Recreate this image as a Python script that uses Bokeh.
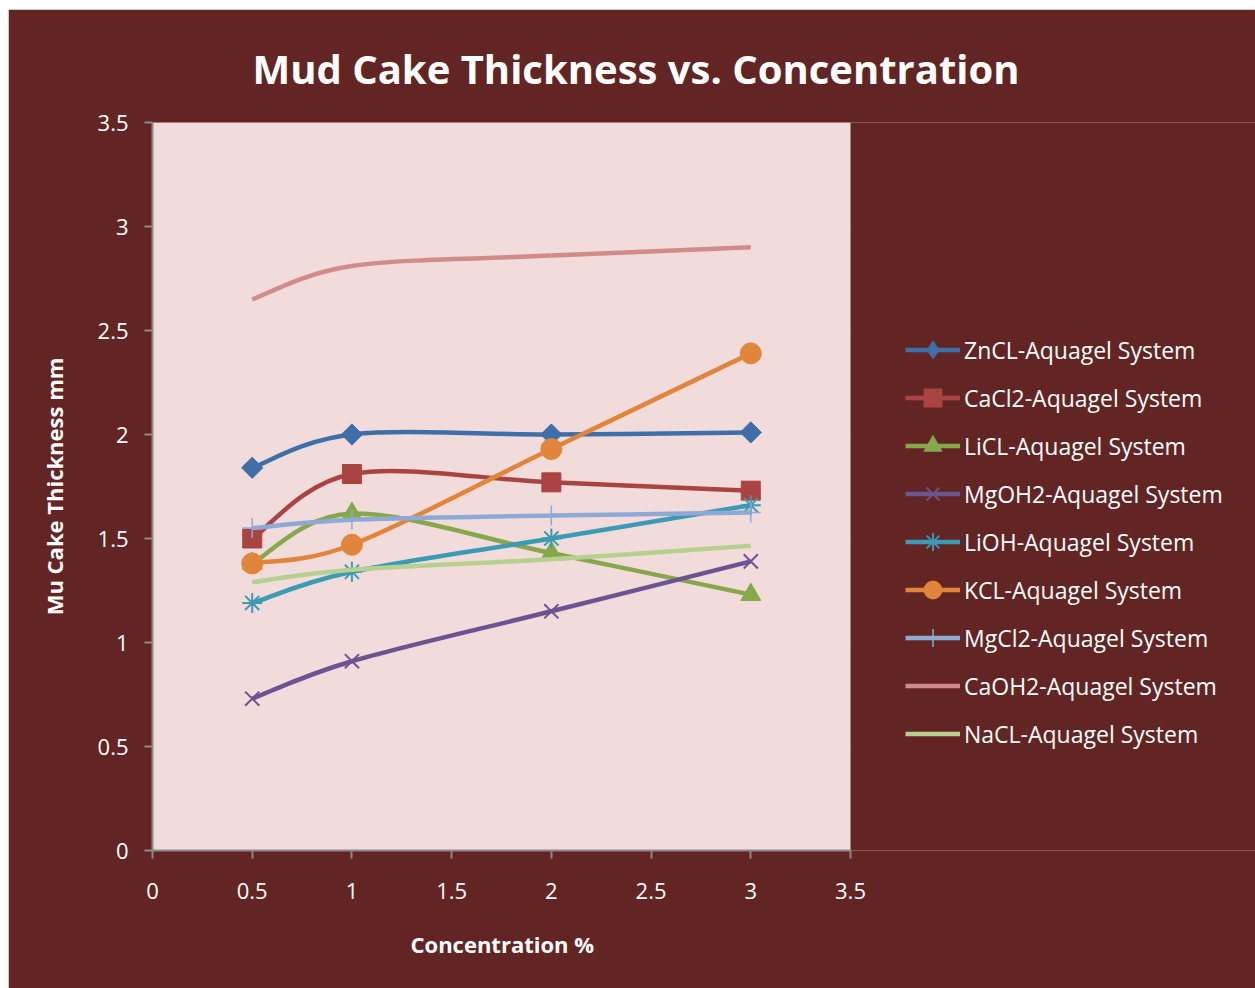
import numpy as np
from bokeh.plotting import figure
from bokeh.models import Legend, LegendItem, ColumnDataSource, FixedTicker, BoxAnnotation, Title
from bokeh.embed import file_html
from bokeh.resources import INLINE

# ---- data ----
concentration = [0.5, 1, 2, 3]
series_names = ["ZnCL-Aquagel System", "CaCl2-Aquagel System", "LiCL-Aquagel System",
                "MgOH2-Aquagel System", "LiOH-Aquagel System", "KCL-Aquagel System",
                "MgCl2-Aquagel System", "CaOH2-Aquagel System", "NaCL-Aquagel System"]
zncl = [1.84, 2.00, 2.00, 2.01]
cacl2 = [1.50, 1.81, 1.77, 1.73]
licl = [1.38, 1.62, 1.43, 1.23]
mgoh2 = [0.73, 0.91, 1.15, 1.39]
lioh = [1.19, 1.34, 1.50, 1.66]
kcl = [1.38, 1.47, 1.93, 2.39]
mgcl2 = [1.55, 1.59, 1.61, 1.625]
caoh2 = [2.65, 2.81, 2.86, 2.90]
nacl = [1.29, 1.35, 1.40, 1.465]
series_values = [zncl, cacl2, licl, mgoh2, lioh, kcl, mgcl2, caoh2, nacl]
axis_ticks = [0, 0.5, 1, 1.5, 2, 2.5, 3, 3.5]
tick_labels = ["0", "0.5", "1", "1.5", "2", "2.5", "3", "3.5"]
axis_max = 3.5

colors = ["#3F6FA8", "#AA4442", "#87A84A", "#6C5391", "#3D9AB4", "#E0853A",
          "#8EAAD4", "#D28B8B", "#B6D090"]
markers = ["square", "square", "triangle", "x", "asterisk", "circle", "cross", None, None]
legend_markers = ["diamond", "square", "triangle", "x", "asterisk", "circle", "cross", None, None]
marker_sizes = [15, 19, 20, 20, 20, 21, 20, 0, 0]
marker_angles = [np.pi / 4, 0, 0, 0, 0, 0, 0, 0, 0]

BG = "#632523"
FRAME = "#F2DCDB"
GRID = "#8A8A8A"
FONT = "Open Sans"

# plot area is 698 px for 3.5 units; the frame continues to the right edge (legend area)
plot_px = 698.0
frame_px = 1103.0
x_end = axis_max * frame_px / plot_px

p = figure(width=1247, height=979, x_range=(0, x_end), y_range=(0, axis_max),
           output_backend="svg", toolbar_location=None,
           min_border_left=144, min_border_right=0, min_border_top=113, min_border_bottom=138)
p.margin = (9, 0, 0, 8)
p.border_fill_color = BG
p.background_fill_color = BG
p.outline_line_color = None

p.add_layout(BoxAnnotation(left=0, right=axis_max, bottom=0, top=axis_max,
                           fill_color=FRAME, fill_alpha=1, line_color=None, level="underlay"))

p.title.text = "Mud Cake Thickness vs. Concentration"
p.title.text_color = "white"
p.title.text_font = FONT
p.title.text_font_style = "bold"
p.title.text_font_size = "40px"
p.title.align = "left"
p.title.offset = 100
p.title.standoff = 54

for ax in (p.xaxis[0], p.yaxis[0]):
    ax.ticker = FixedTicker(ticks=axis_ticks)
    ax.bounds = (0, axis_max)
    ax.major_label_overrides = {t: l for t, l in zip(axis_ticks, tick_labels)}
    ax.axis_line_color = GRID
    ax.axis_line_width = 2
    ax.major_tick_line_color = GRID
    ax.major_tick_line_width = 2
    ax.major_tick_in = 0
    ax.major_tick_out = 8
    ax.minor_tick_line_color = None
    ax.major_label_text_color = "white"
    ax.major_label_text_font = FONT
    ax.major_label_text_font_size = "22px"
    ax.axis_label_text_color = "white"
    ax.axis_label_text_font = FONT
    ax.axis_label_text_font_style = "bold"
    ax.axis_label_text_font_size = "22px"

p.yaxis.axis_label = "Mu Cake Thickness mm"
p.xaxis.major_label_standoff = 24
p.yaxis.major_label_standoff = 16
p.yaxis.axis_label_standoff = 26

xtitle = Title(text="Concentration %", text_color="white", text_font=FONT,
               text_font_style="bold", text_font_size="22px", align="left", offset=258,
               standoff=51)
p.add_layout(xtitle, "below")

p.xgrid.grid_line_color = None
p.ygrid.grid_line_color = GRID
p.ygrid.grid_line_width = 2
p.ygrid.cross_bounds = (0, axis_max)


def smooth_segments(xs, ys):
    n = len(xs)
    d = dict(x0=[], y0=[], x1=[], y1=[], cx0=[], cy0=[], cx1=[], cy1=[])
    for i in range(n - 1):
        a = max(i - 1, 0)
        b = min(i + 2, n - 1)
        d["x0"].append(xs[i]); d["y0"].append(ys[i])
        d["x1"].append(xs[i + 1]); d["y1"].append(ys[i + 1])
        d["cx0"].append(xs[i] + (xs[i + 1] - xs[a]) / 6)
        d["cy0"].append(ys[i] + (ys[i + 1] - ys[a]) / 6)
        d["cx1"].append(xs[i + 1] - (xs[b] - xs[i]) / 6)
        d["cy1"].append(ys[i + 1] - (ys[b] - ys[i]) / 6)
    return ColumnDataSource(d)


NAN = float("nan")
items = []
for name, vals, col, mk, lmk, ms, ang in zip(series_names, series_values, colors, markers,
                                             legend_markers, marker_sizes, marker_angles):
    p.bezier(x0="x0", y0="y0", x1="x1", y1="y1", cx0="cx0", cy0="cy0", cx1="cx1", cy1="cy1",
             source=smooth_segments(concentration, vals), line_color=col, line_width=4.5)
    rends = [p.line(x=[NAN], y=[NAN], line_color=col, line_width=4.5)]
    if mk is not None:
        thin = mk in ("x", "asterisk", "cross")
        kw = dict(line_color=col, line_width=(1.5 if mk == "cross" else 2) if thin else 1,
                  fill_color=None if thin else col)
        p.scatter(x=concentration, y=vals, marker=mk, size=ms, angle=ang, **kw)
        rends.append(p.scatter(x=[NAN], y=[NAN], marker=lmk, size=ms, **kw))
    items.append(LegendItem(label=name, renderers=rends))

legend = Legend(items=items, location=(753, 94), orientation="vertical",
                background_fill_alpha=0, border_line_color=None,
                label_text_color="white", label_text_font=FONT, label_text_font_size="23px",
                glyph_width=55, glyph_height=45, label_height=20, label_standoff=4,
                spacing=3, padding=0, margin=0)
p.add_layout(legend, "center")

open("out.html", "w").write(file_html(p, INLINE))
